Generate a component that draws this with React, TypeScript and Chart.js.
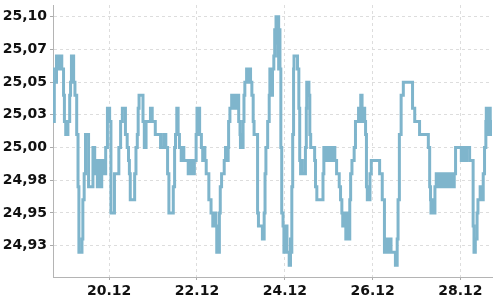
import React, { useEffect, useRef } from 'react';
import { Chart, registerables } from 'chart.js';

Chart.register(...registerables);

// X axis: days of December (decimal), ticks every two days
const xTickValues = [20, 22, 24, 26, 28];
const xTickLabels = ['20.12', '22.12', '24.12', '26.12', '28.12'];
const xMin = 18.72;
const xMax = 28.72;

// Y axis ticks
const yTickValues = [24.925, 24.95, 24.975, 25.0, 25.025, 25.05, 25.075, 25.1];
const yTickLabels = ['24,93', '24,95', '24,98', '25,00', '25,03', '25,05', '25,07', '25,10'];
const yMin = 24.901;
const yMax = 25.109;

// Price change points [day, price]; each price holds until the next point
const dec18to20: [number, number][] = [
  [18.72, 25.06], [18.73, 25.02], [18.75, 25.05], [18.8, 25.07], [18.84, 25.06], [18.87, 25.07],
  [18.92, 25.06], [18.96, 25.04], [18.98, 25.02], [19.01, 25.01], [19.06, 25.02], [19.1, 25.04],
  [19.12, 25.05], [19.14, 25.07], [19.19, 25.05], [19.22, 25.04], [19.26, 25.01], [19.29, 24.97],
  [19.31, 24.92], [19.38, 24.93], [19.4, 24.96], [19.43, 24.98], [19.46, 25.01], [19.53, 24.97],
  [19.63, 25.0], [19.67, 24.98], [19.69, 24.99], [19.73, 24.97], [19.78, 24.99], [19.8, 24.97],
  [19.83, 24.99], [19.86, 24.98], [19.92, 25.0], [19.96, 25.03], [20.01, 25.02], [20.04, 24.95],
  [20.12, 24.98], [20.22, 25.0], [20.26, 25.02], [20.3, 25.03],
];

const dec20to22: [number, number][] = [
  [20.37, 25.01], [20.41, 25.0], [20.44, 24.99], [20.46, 24.98], [20.48, 24.96], [20.58, 24.98],
  [20.61, 25.0], [20.64, 25.01], [20.66, 25.03], [20.68, 25.04], [20.77, 25.02], [20.8, 25.0],
  [20.84, 25.02], [20.94, 25.03], [20.98, 25.02], [21.05, 25.01], [21.17, 25.0], [21.24, 25.01],
  [21.29, 25.0], [21.33, 24.98], [21.36, 24.95], [21.46, 24.97], [21.49, 25.0], [21.51, 25.01],
  [21.54, 25.03], [21.57, 25.01], [21.6, 25.0], [21.64, 24.99], [21.67, 25.0], [21.7, 24.99],
  [21.8, 24.98], [21.86, 24.99], [21.9, 24.98], [21.94, 24.99], [21.98, 25.01], [22.0, 25.03],
];

const dec22to24: [number, number][] = [
  [22.06, 25.01], [22.1, 25.0], [22.13, 24.99], [22.16, 25.0], [22.18, 24.99], [22.21, 24.98],
  [22.27, 24.96], [22.32, 24.95], [22.36, 24.94], [22.4, 24.95], [22.43, 24.94], [22.45, 24.92],
  [22.51, 24.95], [22.53, 24.97], [22.56, 24.98], [22.62, 24.99], [22.65, 25.0], [22.68, 24.99],
  [22.71, 25.0], [22.72, 25.02], [22.75, 25.03], [22.79, 25.04], [22.83, 25.03], [22.86, 25.04],
  [22.9, 25.03], [22.94, 25.04], [22.95, 25.02], [22.98, 25.01], [22.99, 25.0], [23.02, 25.01],
  [23.04, 25.0], [23.05, 25.02], [23.07, 25.04], [23.09, 25.05], [23.13, 25.06], [23.16, 25.05],
  [23.19, 25.06], [23.22, 25.05], [23.25, 25.04], [23.28, 25.02], [23.3, 25.01], [23.38, 24.95],
  [23.4, 24.94], [23.49, 24.93], [23.53, 24.95], [23.55, 24.98], [23.57, 25.0], [23.61, 25.02],
  [23.645, 25.04], [23.66, 25.06], [23.7, 25.04], [23.72, 25.06], [23.75, 25.07], [23.77, 25.09],
  [23.79, 25.08], [23.8, 25.1], [23.84, 25.07], [23.85, 25.1], [23.86, 25.06], [23.88, 25.09],
  [23.89, 25.06], [23.91, 25.0], [23.93, 24.95], [23.96, 24.94], [23.98, 24.92],
];

const dec24to26: [number, number][] = [
  [24.02, 24.94], [24.05, 24.92], [24.1, 24.91], [24.13, 24.93], [24.15, 24.92], [24.16, 24.97],
  [24.18, 25.01], [24.2, 25.06], [24.21, 25.07], [24.29, 25.06], [24.32, 25.03], [24.34, 24.99],
  [24.36, 24.98], [24.38, 24.99], [24.4, 24.98], [24.47, 25.0], [24.49, 25.03], [24.5, 25.05],
  [24.55, 25.04], [24.57, 25.01], [24.59, 25.0], [24.68, 24.99], [24.7, 24.97], [24.73, 24.96],
  [24.87, 24.98], [24.89, 25.0], [24.92, 24.99], [24.95, 25.0], [24.98, 24.99], [25.0, 25.0],
  [25.04, 24.99], [25.08, 25.0], [25.14, 24.99], [25.18, 24.98], [25.24, 24.97], [25.27, 24.96],
  [25.3, 24.95], [25.32, 24.94], [25.36, 24.95], [25.39, 24.93], [25.42, 24.95], [25.45, 24.93],
  [25.48, 24.96], [25.5, 24.98], [25.53, 24.99], [25.58, 25.0], [25.61, 25.02], [25.68, 25.03],
  [25.71, 25.02], [25.73, 25.04], [25.76, 25.02], [25.78, 25.03], [25.82, 25.02], [25.84, 25.01],
  [25.86, 24.97], [25.88, 24.96], [25.9, 24.97], [25.92, 24.96], [25.94, 24.98], [25.97, 24.99],
];

const dec26to28: [number, number][] = [
  [26.16, 24.98], [26.22, 24.96], [26.27, 24.92], [26.29, 24.93], [26.34, 24.92], [26.37, 24.93],
  [26.42, 24.92], [26.52, 24.91], [26.56, 24.93], [26.58, 24.96], [26.61, 25.01], [26.65, 25.04],
  [26.7, 25.05], [26.91, 25.03], [26.96, 25.02], [27.07, 25.01], [27.27, 25.0], [27.3, 24.97],
  [27.32, 24.96], [27.33, 24.95], [27.37, 24.96], [27.39, 24.95], [27.42, 24.97], [27.45, 24.98],
  [27.5, 24.97], [27.55, 24.98], [27.6, 24.97], [27.65, 24.98], [27.7, 24.97], [27.75, 24.98],
  [27.8, 24.97], [27.86, 24.98], [27.89, 25.0],
];

const dec28on: [number, number][] = [
  [28.02, 24.99], [28.06, 25.0], [28.1, 24.99], [28.14, 25.0], [28.21, 24.99], [28.29, 24.94],
  [28.31, 24.92], [28.34, 24.93], [28.38, 24.95], [28.4, 24.96], [28.45, 24.97], [28.48, 24.96],
  [28.52, 24.98], [28.55, 25.0], [28.58, 25.02], [28.59, 25.03], [28.63, 25.01], [28.65, 25.03],
  [28.68, 25.01], [28.7, 25.02], [28.72, 25.02],
];

const allSteps = [...dec18to20, ...dec20to22, ...dec22to24, ...dec24to26, ...dec26to28, ...dec28on];

export default function App() {
  const canvasRef = useRef<HTMLCanvasElement | null>(null);

  useEffect(() => {
    if (!canvasRef.current) return;
    const tickFont = { family: 'DejaVu Sans', size: 14, weight: 'bold' as const };
    const chart = new Chart(canvasRef.current, {
      type: 'line',
      data: {
        datasets: [
          {
            data: allSteps.map(([x, y]) => ({ x, y })),
            borderColor: 'rgb(127,181,204)',
            borderWidth: 3,
            pointRadius: 0,
            stepped: true,
            fill: false,
            tension: 0,
          },
        ],
      },
      options: {
        animation: false,
        responsive: false,
        devicePixelRatio: 1,
        layout: { padding: { left: 3, top: 5, right: 8, bottom: 0 } },
        plugins: { legend: { display: false }, tooltip: { enabled: false } },
        scales: {
          x: {
            type: 'linear',
            min: xMin,
            max: xMax,
            afterBuildTicks: (s: any) => {
              s.ticks = xTickValues.map((v) => ({ value: v }));
            },
            afterFit: (s: any) => {
              s.height = 23;
              s.paddingLeft = 0;
              s.paddingRight = 0;
            },
            ticks: {
              callback: (_v: any, i: number) => xTickLabels[i],
              font: tickFont,
              color: '#111',
              padding: 3,
              maxRotation: 0,
              autoSkip: false,
            },
            grid: { color: '#dddddd', tickLength: 3, tickColor: '#aaaaaa' },
            border: { color: '#b4b4b4', width: 1, dash: [3, 3] },
          },
          y: {
            type: 'linear',
            min: yMin,
            max: yMax,
            afterBuildTicks: (s: any) => {
              s.ticks = yTickValues.map((v) => ({ value: v }));
            },
            afterFit: (s: any) => {
              s.width = 50;
              s.paddingTop = 0;
              s.paddingBottom = 0;
            },
            ticks: {
              callback: (_v: any, i: number) => yTickLabels[i],
              font: tickFont,
              color: '#111',
              padding: 3,
              autoSkip: false,
            },
            grid: { color: '#dddddd', tickLength: 3, tickColor: '#aaaaaa' },
            border: { color: '#b4b4b4', width: 1, dash: [3, 3] },
          },
        },
      },
    });
    return () => chart.destroy();
  }, []);

  return (
    <canvas
      ref={canvasRef}
      width={500}
      height={300}
      style={{ position: 'absolute', left: 0, top: 0, display: 'block', width: 500, height: 300 }}
    />
  );
}
